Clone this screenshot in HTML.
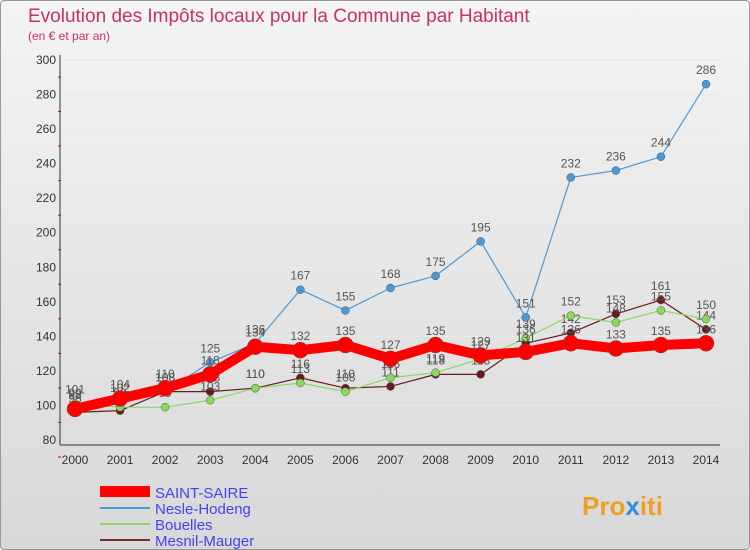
<!DOCTYPE html>
<html><head><meta charset="utf-8"><style>
body{margin:0;background:#fff;font-family:"Liberation Sans",sans-serif}
#wrap{position:relative;width:748px;height:548px;border:1px solid #999;border-radius:4px;background:linear-gradient(#f4f4f4,#d8d8d8);overflow:hidden}
</style></head><body>
<div id="wrap">
<svg id="chart" width="750" height="550" style="position:absolute;left:-1px;top:-1px">
<text x="28" y="22" font-size="19" fill="#c8306a">Evolution des Impôts locaux pour la Commune par Habitant</text>
<text x="28" y="40" font-size="12" fill="#c8306a">(en € et par an)</text>
<g id="grid"></g><g id="series"></g>
<g>
<rect x="100" y="486" width="50" height="11" fill="#ff0000"/>
<text x="155" y="498" font-size="15" fill="#4444ee">SAINT-SAIRE</text>
<line x1="100" y1="508" x2="150" y2="508" stroke="#4a9ad8" stroke-width="2"/>
<text x="155" y="514" font-size="15" fill="#4444ee">Nesle-Hodeng</text>
<line x1="100" y1="524" x2="150" y2="524" stroke="#8ad860" stroke-width="2"/>
<text x="155" y="530" font-size="15" fill="#4444ee">Bouelles</text>
<line x1="100" y1="540" x2="150" y2="540" stroke="#7a2a2a" stroke-width="2"/>
<text x="155" y="546" font-size="15" fill="#4444ee">Mesnil-Mauger</text>
</g>
<text x="582" y="515" font-size="26" font-weight="bold" fill="#f0a020">Pro<tspan fill="#3090e0">x</tspan>iti</text>
</svg></div>
<script>
const years=[2000,2001,2002,2003,2004,2005,2006,2007,2008,2009,2010,2011,2012,2013,2014];
const yTicks=[80,100,120,140,160,180,200,220,240,260,280,300];
const saintSaire=[98,104,110,118,134,132,135,127,135,129,131,136,133,135,136];
const nesle=[99,102,108,125,136,167,155,168,175,195,151,232,236,244,286];
const bouelles=[101,99,99,103,110,113,108,116,119,127,139,152,148,155,150];
const mesnil=[96,97,108,108,110,116,110,111,118,118,136,142,153,161,144];
const NS="http://www.w3.org/2000/svg";
function xs(i){return 75+i*(706-75)/(years.length-1);}
function ys(v){return 440-(v-80)*380/220;}
function mk(t,a,p){const e=document.createElementNS(NS,t);for(const k in a)e.setAttribute(k,a[k]);p.appendChild(e);return e;}
const g=document.getElementById('grid');
yTicks.forEach(v=>{
 const l=mk('line',{x1:60,x2:720,y1:ys(v),y2:ys(v),stroke:'#e8e8e8'},g);
 
 
 mk('line',{x1:58,x2:61,y1:ys(v)+17,y2:ys(v)+17,stroke:'#ff0000'},g);
 const t=mk('text',{x:56,y:ys(v)+4,'text-anchor':'end','font-size':12,fill:'#333'},g);t.textContent=v;
 
 
});
mk('line',{x1:60,x2:60,y1:55,y2:445,stroke:'#333'},g);
mk('line',{x1:60,x2:720,y1:445,y2:445,stroke:'#333'},g);
years.forEach((y,i)=>{
 const t=mk('text',{x:xs(i),y:464,'text-anchor':'middle','font-size':12,fill:'#333'},g);t.textContent=y;
 
 
});
const s=document.getElementById('series');
function draw(name,data,color,w,r){
 const gr=mk('g',{},s);
 
 
 mk('polyline',{points:data.map((v,i)=>xs(i)+','+ys(v)).join(' '),fill:'none',stroke:color,'stroke-width':w,'stroke-linejoin':'round'},gr);
 data.forEach((v,i)=>{
  const c=mk('circle',{cx:xs(i),cy:ys(v),r:r,fill:color,stroke:'#555','stroke-width':0.5},gr);
  
  
  const t=mk('text',{x:xs(i),y:ys(v)-10,'text-anchor':'middle','font-size':12,fill:'#555'},gr);t.textContent=v;
  
  
 });
}
draw('mesnil',mesnil,'#6a1a1a',1.2,4);
draw('bouelles',bouelles,'#8ad860',1.2,4);
draw('nesle',nesle,'#4a9ad8',1.2,4);
draw('saint-saire',saintSaire,'#ff0000',10,8);
</script>
</body></html>
